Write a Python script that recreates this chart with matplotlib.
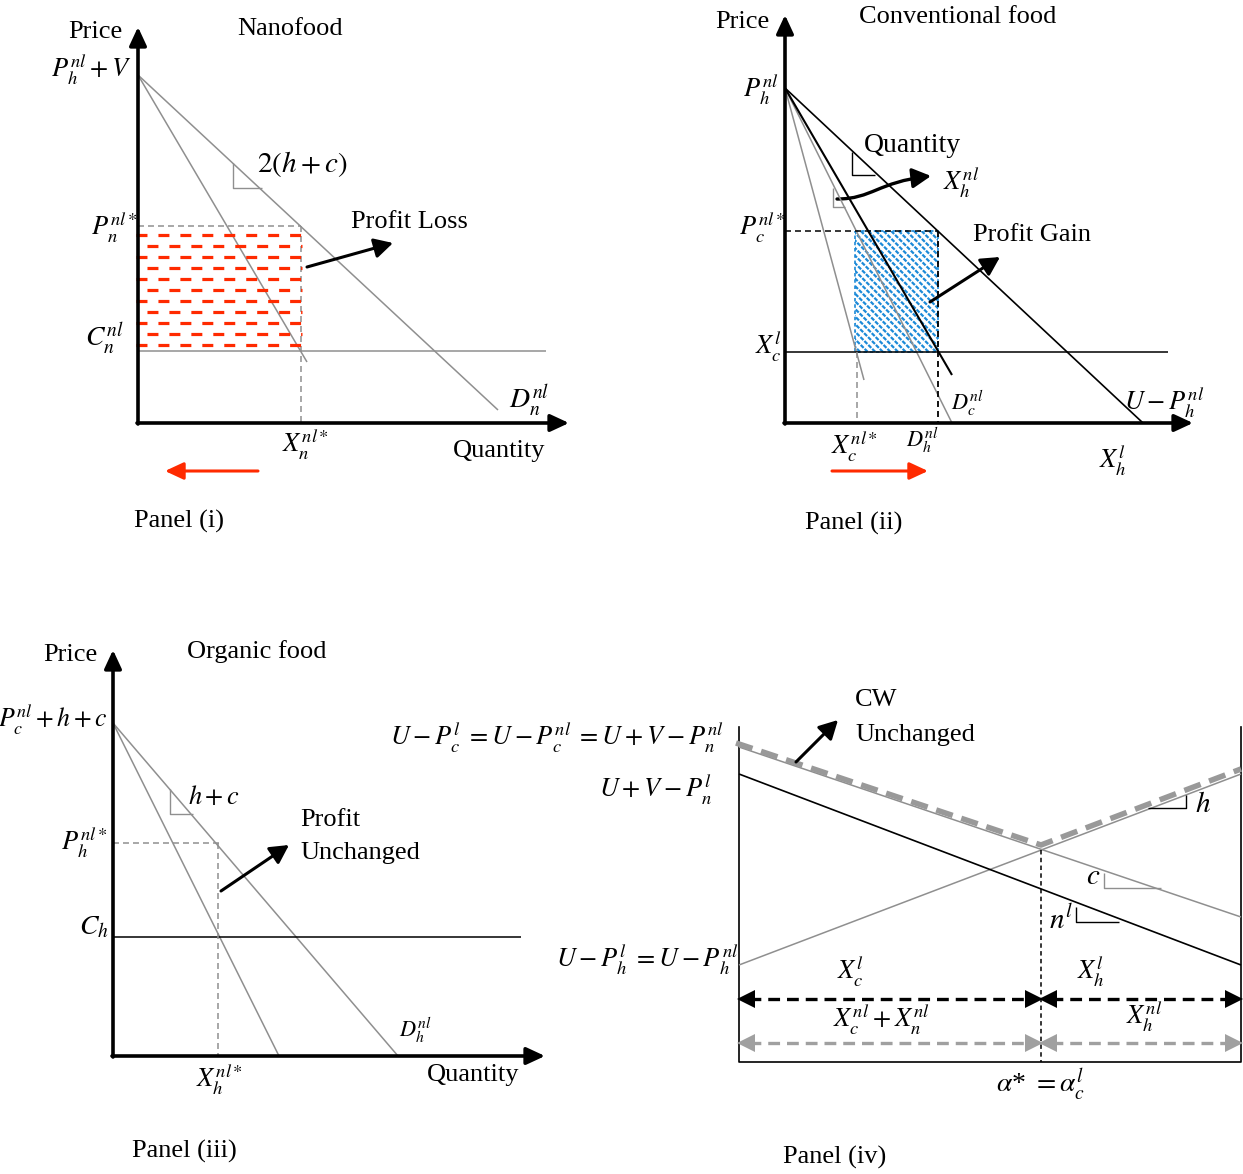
import matplotlib
matplotlib.use('Agg')
import matplotlib.pyplot as plt
from matplotlib.patches import FancyArrowPatch, Rectangle
from matplotlib.path import Path
import numpy as np

plt.rcParams['font.family'] = ['Liberation Serif', 'DejaVu Serif']
plt.rcParams['mathtext.fontset'] = 'stix'
plt.rcParams['lines.scale_dashes'] = False

# ---------------- diagram data (canvas pixel units) ----------------
# Panel (i) Nanofood
p1_axis_x = [138, 138]; p1_axis_y = [424, 27]
p1_qaxis_x = [137, 569]; p1_qaxis_y = [423, 423]
p1_mr_x = [138, 307]; p1_mr_y = [75, 362]
p1_dem_x = [138, 498]; p1_dem_y = [75, 410]
p1_cost_x = [138, 546]; p1_cost_y = [351, 351]
p1_price_x = [138, 301]; p1_price_y = [226, 226]
p1_qty_x = [301, 301]; p1_qty_y = [226, 423]
p1_tri_x = [233, 233, 262]; p1_tri_y = [163, 188, 188]
p1_loss_rows = [235, 246, 257, 268, 279, 290, 301, 312, 323, 334, 345]
p1_loss_x = [136, 302]
p1_loss_arrow = [(307, 267), (393, 243)]
p1_red_arrow = [(258, 471), (165, 471)]

# Panel (ii) Conventional food
p2_axis_x = [785, 785]; p2_axis_y = [424, 15]
p2_qaxis_x = [784, 1193]; p2_qaxis_y = [423, 423]
p2_dem_l_x = [785, 1143]; p2_dem_l_y = [88, 423]
p2_mr_l_x = [785, 952]; p2_mr_l_y = [88, 375]
p2_dem_nl_x = [785, 952]; p2_dem_nl_y = [88, 423]
p2_mr_nl_x = [785, 864]; p2_mr_nl_y = [88, 380]
p2_cost_x = [785, 1168]; p2_cost_y = [352, 352]
p2_price_x = [785, 938]; p2_price_y = [231, 231]
p2_qh_x = [938, 938]; p2_qh_y = [231, 423]
p2_qc_x = [857, 857]; p2_qc_y = [352, 423]
p2_gain_rect = (855, 231, 83, 121)
p2_tri1_x = [852, 852, 875]; p2_tri1_y = [152, 175, 175]
p2_tri2_x = [833, 833, 845]; p2_tri2_y = [188, 207, 207]
p2_curve = [(837, 199), (872, 199), (878, 182), (931, 176)]
p2_gain_arrow = [(930, 302), (1000, 257)]
p2_red_arrow = [(832, 471), (928, 471)]

# Panel (iii) Organic food
p3_axis_x = [113, 113]; p3_axis_y = [1057, 650]
p3_qaxis_x = [112, 545]; p3_qaxis_y = [1056, 1056]
p3_mr_x = [113, 279]; p3_mr_y = [723, 1056]
p3_dem_x = [113, 398]; p3_dem_y = [723, 1056]
p3_cost_x = [113, 521]; p3_cost_y = [937, 937]
p3_price_x = [113, 221]; p3_price_y = [843, 843]
p3_qty_x = [218, 218]; p3_qty_y = [843, 1056]
p3_tri_x = [170, 170, 193]; p3_tri_y = [789, 814, 814]
p3_arrow = [(221, 891), (289, 845)]

# Panel (iv) consumer welfare
p4_box_x = [739, 739, 1241, 1241]; p4_box_y = [727, 1062, 1062, 727]
p4_conv_x = [739, 1241]; p4_conv_y = [747, 917]
p4_nano_x = [739, 1241]; p4_nano_y = [774, 965]
p4_org_x = [739, 1241]; p4_org_y = [965, 774]
p4_cw_x = [736, 1041, 1241]; p4_cw_y = [743, 845, 769]
p4_alpha_x = [1041, 1041]; p4_alpha_y = [850, 1062]
p4_split_x = [739, 1041, 1241]
p4_black_y = 999
p4_gray_y = 1043
p4_tri_h_x = [1148, 1186, 1186]; p4_tri_h_y = [808, 808, 795]
p4_tri_c_x = [1104, 1104, 1161]; p4_tri_c_y = [873, 888, 888]
p4_tri_n_x = [1076, 1076, 1119]; p4_tri_n_y = [907, 922, 922]
p4_cw_arrow = [(796, 762), (838, 720)]

# ---------------- figure ----------------
W, H = 1243, 1174
fig = plt.figure(figsize=(W / 100, H / 100), dpi=100)
ax = fig.add_axes([0, 0, 1, 1])
ax.set_xlim(0, W)
ax.set_ylim(H, 0)
ax.axis('off')

GRAY = '#8f8f8f'
RED = '#ff2a00'
BLUE = '#1c8ad8'
DASH = (0, (4.3, 2.9))


def axis_arrow(xs, ys):
    ax.annotate('', xy=(xs[1], ys[1]), xytext=(xs[0], ys[0]),
                arrowprops=dict(arrowstyle='-|>,head_length=0.56,head_width=0.26',
                                lw=2.6, color='k', shrinkA=0, shrinkB=0,
                                mutation_scale=20))


def arrow(p, color='k', lw=2.2, hl=0.56, hw=0.3):
    ax.annotate('', xy=p[1], xytext=p[0],
                arrowprops=dict(arrowstyle=f'-|>,head_length={hl},head_width={hw}',
                                lw=lw, color=color, shrinkA=0, shrinkB=0,
                                mutation_scale=20))


def line(x, y, color='k', lw=1.0, ls='-', **kw):
    ax.plot(x, y, color=color, lw=lw, ls=ls, solid_capstyle='butt',
            dash_capstyle='butt', **kw)


def txt(x, y, s, ha='left', va='center', size=19, **kw):
    ax.text(x, y, s, ha=ha, va=va, fontsize=size, **kw)


# ----- Panel (i)
line(p1_mr_x, p1_mr_y, GRAY, 1.1)
line(p1_dem_x, p1_dem_y, GRAY, 1.1)
line(p1_cost_x, p1_cost_y, GRAY, 1.1)
line(p1_price_x, p1_price_y, GRAY, 1.1, DASH)
line(p1_qty_x, p1_qty_y, GRAY, 1.1, DASH)
line(p1_tri_x, p1_tri_y, GRAY, 1.0)
for i, yy in enumerate(p1_loss_rows):
    off = 0 if i % 2 == 0 else 7.9
    line(p1_loss_x, [yy, yy], RED, 2.3, (off, (7.9, 7.9)))
axis_arrow(p1_axis_x, p1_axis_y)
axis_arrow(p1_qaxis_x, p1_qaxis_y)
arrow(p1_loss_arrow)
arrow(p1_red_arrow, color=RED, lw=2.2, hl=0.56, hw=0.26)

txt(68, 32, 'Price')
txt(237, 29, 'Nanofood')
txt(131, 70, r'$P_h^{nl}+V$', ha='right')
txt(137, 228, r'$P_n^{nl*}$', ha='right')
txt(124, 339, r'$C_n^{nl}$', ha='right', size=20)
txt(509, 401, r'$D_n^{nl}$', size=20)
txt(257, 164, r'$2(h+c)$', size=21)
txt(351, 222, 'Profit Loss')
txt(282, 445, r'$X_n^{nl*}$')
txt(453, 451, 'Quantity')
txt(134, 521, 'Panel (i)')

# ----- Panel (ii)
rect = Rectangle(p2_gain_rect[:2], p2_gain_rect[2], p2_gain_rect[3],
                 facecolor='none', edgecolor=BLUE, lw=1.2, ls=(0, (2.5, 2)))
ax.add_patch(rect)
rx, ry, rw, rh = p2_gain_rect
for k in np.arange(-rh - 10, rw + 10, 7.6):
    hl_ = ax.plot([rx + k, rx + k + rh + 20], [ry, ry + rh + 20], color=BLUE,
                  lw=1.6, ls=(0, (3.0, 1.0)))[0]
    hl_.set_clip_path(rect)
line(p2_dem_nl_x, p2_dem_nl_y, GRAY, 1.1)
line(p2_mr_nl_x, p2_mr_nl_y, GRAY, 1.1)
line(p2_dem_l_x, p2_dem_l_y, 'k', 1.2)
line(p2_mr_l_x, p2_mr_l_y, 'k', 1.5)
line(p2_cost_x, p2_cost_y, 'k', 1.1)
line(p2_price_x, p2_price_y, 'k', 1.1, DASH)
line(p2_qh_x, p2_qh_y, 'k', 1.3, DASH)
line(p2_qc_x, p2_qc_y, GRAY, 1.1, DASH)
line(p2_tri1_x, p2_tri1_y, 'k', 1.0)
line(p2_tri2_x, p2_tri2_y, GRAY, 1.0)
axis_arrow(p2_axis_x, p2_axis_y)
axis_arrow(p2_qaxis_x, p2_qaxis_y)
curve = FancyArrowPatch(path=Path(p2_curve, [Path.MOVETO, Path.CURVE4, Path.CURVE4, Path.CURVE4]),
                        arrowstyle='-|>,head_length=0.56,head_width=0.3',
                        lw=2.4, color='k', mutation_scale=20)
ax.add_patch(curve)
arrow(p2_gain_arrow)
arrow(p2_red_arrow, color=RED, lw=2.2, hl=0.56, hw=0.26)

txt(715, 22, 'Price')
txt(859, 17, 'Conventional food')
txt(778, 90, r'$P_h^{nl}$', ha='right')
txt(864, 146, 'Quantity', size=20)
txt(943, 183, r'$X_h^{nl}$')
txt(785, 228, r'$P_c^{nl*}$', ha='right')
txt(973, 235, 'Profit Gain')
txt(782, 347, r'$X_c^{l}$', ha='right')
txt(951, 403, r'$D_c^{nl}$', size=16)
txt(1124, 403, r'$U-P_h^{nl}$')
txt(831, 447, r'$X_c^{nl*}$')
txt(906, 440, r'$D_h^{nl}$', size=16)
txt(1099, 461, r'$X_h^{l}$')
txt(805, 523, 'Panel (ii)')

# ----- Panel (iii)
line(p3_mr_x, p3_mr_y, GRAY, 1.1)
line(p3_dem_x, p3_dem_y, GRAY, 1.1)
line(p3_cost_x, p3_cost_y, 'k', 1.1)
line(p3_price_x, p3_price_y, GRAY, 1.1, DASH)
line(p3_qty_x, p3_qty_y, GRAY, 1.1, DASH)
line(p3_tri_x, p3_tri_y, GRAY, 1.0)
axis_arrow(p3_axis_x, p3_axis_y)
axis_arrow(p3_qaxis_x, p3_qaxis_y)
arrow(p3_arrow)

txt(43, 655, 'Price')
txt(187, 652, 'Organic food')
txt(108, 720, r'$P_c^{nl}+h+c$', ha='right', size=18.5)
txt(188, 797, r'$h+c$')
txt(300, 820, 'Profit')
txt(300, 853, 'Unchanged')
txt(107, 843, r'$P_h^{nl*}$', ha='right')
txt(109, 928, r'$C_h$', ha='right', size=20)
txt(399, 1030, r'$D_h^{nl}$', size=16)
txt(196, 1080, r'$X_h^{nl*}$')
txt(427, 1075, 'Quantity')
txt(132, 1151, 'Panel (iii)')

# ----- Panel (iv)
ax.plot(p4_box_x, p4_box_y, color='k', lw=1.2)
line(p4_conv_x, p4_conv_y, GRAY, 1.1)
line(p4_org_x, p4_org_y, GRAY, 1.1)
line(p4_nano_x, p4_nano_y, 'k', 1.2)
ax.plot(p4_cw_x, p4_cw_y, color='#999999', lw=4.0, ls=(0, (12.5, 6.5)),
        solid_joinstyle='miter', dash_capstyle='butt')
line(p4_alpha_x, p4_alpha_y, 'k', 1.1, (0, (3.2, 2.4)))
line(p4_tri_h_x, p4_tri_h_y, 'k', 1.0)
line(p4_tri_c_x, p4_tri_c_y, GRAY, 1.0)
line(p4_tri_n_x, p4_tri_n_y, 'k', 1.0)


def dbl_arrow(xa, xb, yy, color):
    line([xa + 10, xb - 10], [yy, yy], color, 2.4, (0, (8.5, 5.0)))
    ax.plot([xa + 7], [yy], marker='<', color=color, ms=13, mew=0)
    ax.plot([xb - 7], [yy], marker='>', color=color, ms=13, mew=0)


for j in range(len(p4_split_x) - 1):
    dbl_arrow(p4_split_x[j], p4_split_x[j + 1], p4_black_y, 'k')
    dbl_arrow(p4_split_x[j], p4_split_x[j + 1], p4_gray_y, '#a0a0a0')
arrow(p4_cw_arrow)

txt(855, 700, 'CW')
txt(855, 735, 'Unchanged')
txt(724, 738, r'$U-P_c^{l}\;=U-P_c^{nl}\;=U+V-P_n^{nl}$', ha='right')
txt(712, 790, r'$U+V-P_n^{l}$', ha='right')
txt(738, 960, r'$U-P_h^{l}\;=U-P_h^{nl}$', ha='right')
txt(1195, 805, r'$h$', size=21)
txt(1086, 877, r'$c$', size=21)
txt(1049, 920, r'$n^{l}$', size=21)
txt(837, 972, r'$X_c^{l}$')
txt(1077, 972, r'$X_h^{l}$')
txt(833, 1020, r'$X_c^{nl}+X_n^{nl}$')
txt(1126, 1017, r'$X_h^{nl}$')
txt(1040, 1085, r'$\alpha$* $=\alpha_c^{l}$', ha='center', size=20)
txt(783, 1157, 'Panel (iv)')

fig.savefig('out.png', dpi=100)
